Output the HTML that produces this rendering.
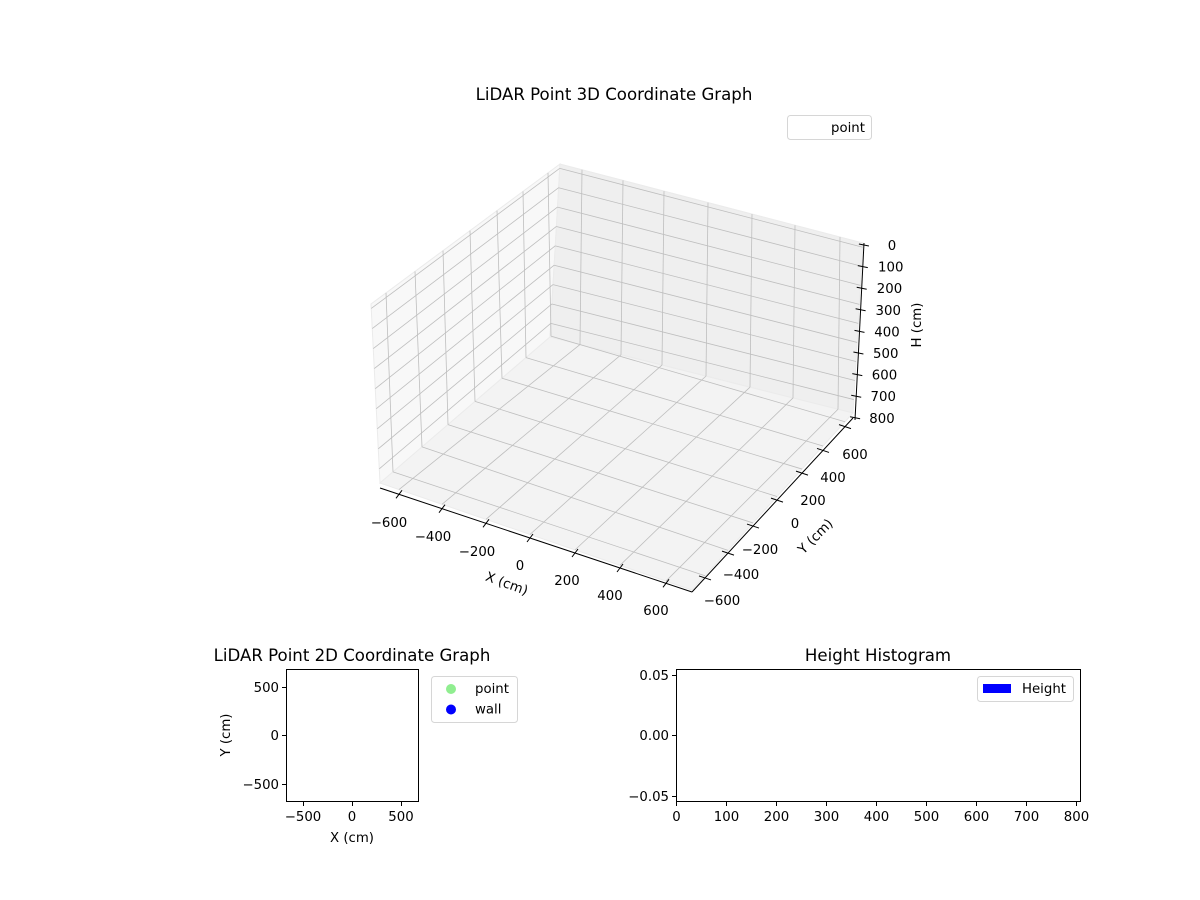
<!DOCTYPE html>
<html><head><meta charset="utf-8"><style>
html,body{margin:0;padding:0;background:#fff}
svg{display:block}
text{font-family:"DejaVu Sans","Liberation Sans",sans-serif;fill:#000}
</style></head><body>
<svg id="s" width="1200" height="900" viewBox="0 0 1200 900" xmlns="http://www.w3.org/2000/svg">
<rect width="1200" height="900" fill="#fff"/>
<g id="g3"></g>
<text x="614" y="100" font-size="16.6" text-anchor="middle">LiDAR Point 3D Coordinate Graph</text>
<rect x="787.5" y="115.5" width="84" height="24" rx="3" fill="#fff" stroke="#d6d6d6"/>
<text x="831" y="132" font-size="13.3">point</text>

<!-- 2D -->
<text x="352" y="661" font-size="16.6" text-anchor="middle">LiDAR Point 2D Coordinate Graph</text>
<rect x="286.5" y="669.5" width="132" height="132" fill="#fff" stroke="#000"/>
<g stroke="#000">
<line x1="303.5" y1="801.5" x2="303.5" y2="806"/><line x1="352.5" y1="801.5" x2="352.5" y2="806"/><line x1="401.5" y1="801.5" x2="401.5" y2="806"/>
<line x1="282" y1="687.5" x2="286.5" y2="687.5"/><line x1="282" y1="735.5" x2="286.5" y2="735.5"/><line x1="282" y1="784.5" x2="286.5" y2="784.5"/>
</g>
<g font-size="13.3" text-anchor="middle">
<text x="303" y="821">−500</text><text x="352" y="821">0</text><text x="401" y="821">500</text>
<text x="352" y="842">X (cm)</text>
</g>
<g font-size="13.3" text-anchor="end">
<text x="279" y="692">500</text><text x="279" y="740">0</text><text x="279" y="789">−500</text>
</g>
<text transform="translate(230,735) rotate(-90)" font-size="13.3" text-anchor="middle">Y (cm)</text>
<rect x="431.5" y="676.5" width="86" height="46" rx="3" fill="#fff" stroke="#d6d6d6"/>
<circle cx="451" cy="689" r="5" fill="#90ee90"/>
<circle cx="451" cy="709.5" r="5" fill="#0000ff"/>
<text x="475" y="693" font-size="13.3">point</text>
<text x="475" y="713.5" font-size="13.3">wall</text>

<!-- Histogram -->
<text x="878" y="661" font-size="16.6" text-anchor="middle">Height Histogram</text>
<rect x="676.5" y="669.5" width="404" height="132" fill="#fff" stroke="#000"/>
<g id="hx" stroke="#000"></g>
<g id="hl" font-size="13.3" text-anchor="middle"></g>
<g stroke="#000">
<line x1="672" y1="675.5" x2="676.5" y2="675.5"/><line x1="672" y1="735.5" x2="676.5" y2="735.5"/><line x1="672" y1="796.5" x2="676.5" y2="796.5"/>
</g>
<g font-size="13.3" text-anchor="end">
<text x="669" y="680">0.05</text><text x="669" y="740">0.00</text><text x="669" y="801">−0.05</text>
</g>
<rect x="977.5" y="676.5" width="96" height="25" rx="3" fill="#fff" stroke="#d6d6d6"/>
<rect x="983" y="684" width="28" height="9" fill="#0000ff"/>
<text x="1022" y="693" font-size="13.3">Height</text>
</svg>
<script>
var NS="http://www.w3.org/2000/svg";
function el(p,t,a,txt){var e=document.createElementNS(NS,t);for(var k in a)e.setAttribute(k,a[k]);if(txt!==undefined)e.textContent=txt;p.appendChild(e);return e;}
var g=document.getElementById('g3');
function L(p1,p2,c,w){el(g,'line',{x1:p1[0],y1:p1[1],x2:p2[0],y2:p2[1],stroke:c,'stroke-width':w||0.8});}
function lerp(a,b,t){return [a[0]+(b[0]-a[0])*t,a[1]+(b[1]-a[1])*t];}
var A=[380,483],B=[692,590],C=[853,413],D=[550,337],A2=[371,304],C2=[863,243],D2=[560,164];
function poly(pts,f){el(g,'polygon',{points:pts.map(function(p){return p.join(',')}).join(' '),fill:f,stroke:'#ebebeb','stroke-width':1});}
poly([A,D,D2,A2],'#f8f8f8');
poly([D,C,C2,D2],'#efefef');
poly([A,B,C,D],'#f3f3f3');
var gc='#bebebe';
for(var k=0;k<9;k++){var f=0.025+0.112*k;
 var pa=lerp(A2,A,f),pd=lerp(D2,D,f),pc=lerp(C2,C,f);L(pa,pd,gc);L(pd,pc,gc);}
var abx=[399,442,486,530,575,620,666];
var dcb=[580,621,662,706,750,793,838];
var dct=[582,623,664,708,752,795,840];
function onLine(P,Q,x){return [x,P[1]+(x-P[0])*(Q[1]-P[1])/(Q[0]-P[0])];}
for(var i=0;i<7;i++){var b=onLine(D,C,dcb[i]),t=onLine(D2,C2,dct[i]);L(b,t,gc);L(onLine(A,B,abx[i]),b,gc);}
var adb=[393,422,448,475,502,526,551];
var adt=[386,415,443,470,497,523,548];
var bcx=[705,728,753,777,802,823,845];
for(var i=0;i<7;i++){var b=onLine(A,D,adb[i]),t=onLine(A2,D2,adt[i]);L(b,t,gc);L(onLine(B,C,bcx[i]),b,gc);}
var XA=[380,488],XB=[692,592],YB=[853,418];
L(XA,XB,'#000',1);L(XB,YB,'#000',1);
var ZT=[864,243],ZB=[855,420];L(ZT,ZB,'#000',1);
var xl=['−600','−400','−200','0','200','400','600'];
var xlp=[[389,527],[433,541],[477,556],[520,570],[567,585],[610,600],[656,615]];
for(var i=0;i<7;i++){var p=onLine(XA,XB,abx[i]);L([p[0]-3,p[1]+4],[p[0]+3,p[1]-4],'#000',1);
 el(g,'text',{x:xlp[i][0],y:xlp[i][1],'font-size':13.3,'text-anchor':'middle'},xl[i]);}
var ylp=[[722,605],[741,579],[760,554],[795,528],[813,505],[833,482],[855,459]];
for(var i=0;i<7;i++){var p=onLine(XB,YB,bcx[i]);L([p[0]-6,p[1]-2],[p[0]+6,p[1]+2],'#000',1);
 el(g,'text',{x:ylp[i][0],y:ylp[i][1],'font-size':13.3,'text-anchor':'middle'},xl[i]);}
for(var k=0;k<9;k++){var y=245+21.6*k,x=864-(y-243)*9/177;
 L([x-5,y-1],[x+5,y+1],'#000',1);
 el(g,'text',{x:892-10*k/8,y:y+5,'font-size':13.3,'text-anchor':'middle'},String(k*100));}
el(g,'text',{transform:'translate(507,583) rotate(20)','font-size':13.3,'text-anchor':'middle',y:5},'X (cm)');
el(g,'text',{transform:'translate(815,536) rotate(-45)','font-size':13.3,'text-anchor':'middle',y:5},'Y (cm)');
el(g,'text',{transform:'translate(916,325) rotate(-90)','font-size':13.3,'text-anchor':'middle',y:5},'H (cm)');
var hx=document.getElementById('hx'),hl=document.getElementById('hl');
for(var i=0;i<=8;i++){var x=676.5+i*50;el(hx,'line',{x1:x,y1:801.5,x2:x,y2:806});el(hl,'text',{x:x,y:821},String(i*100));}
</script>
</body></html>
